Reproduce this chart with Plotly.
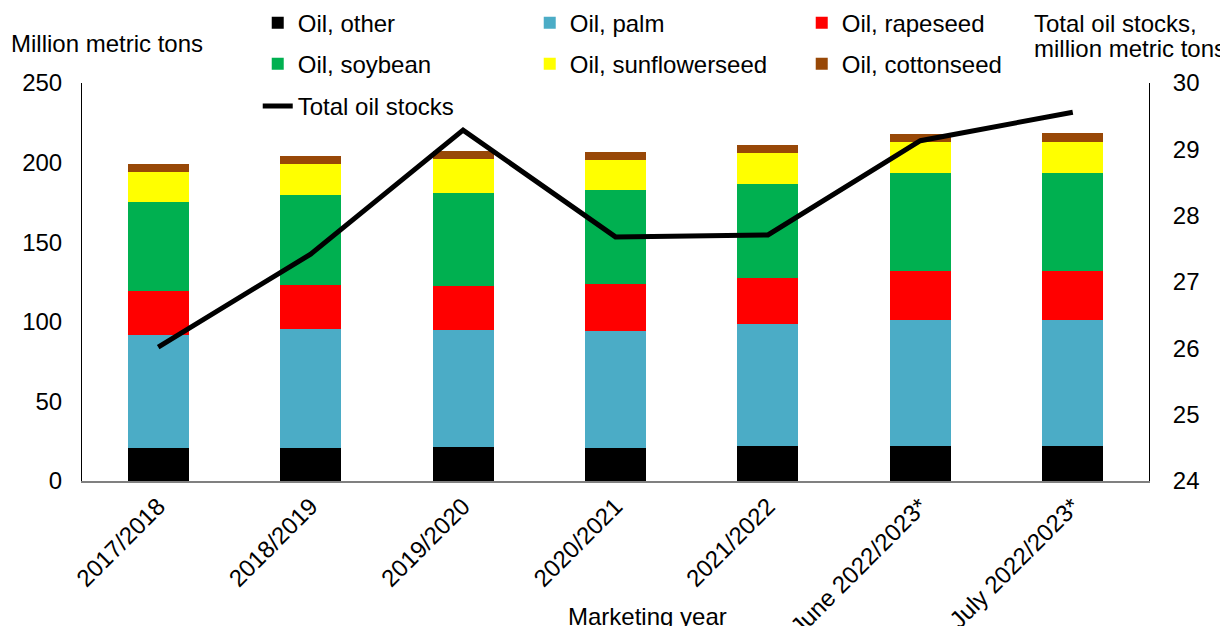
import plotly.graph_objects as go

# ---- data ----
years = ["2017/2018", "2018/2019", "2019/2020", "2020/2021", "2021/2022",
         "June 2022/2023*", "July 2022/2023*"]
oil_other = [20.9, 20.9, 21.4, 20.9, 22.2, 22.0, 22.0]
oil_palm = [70.8, 74.6, 73.2, 73.3, 76.6, 79.3, 79.3]
oil_rapeseed = [27.8, 27.8, 28.1, 29.3, 28.5, 30.8, 30.8]
oil_soybean = [55.8, 56.1, 58.4, 59.3, 59.5, 61.6, 61.6]
oil_sunflowerseed = [18.6, 19.9, 21.2, 19.0, 19.4, 19.2, 19.4]
oil_cottonseed = [5.0, 4.8, 5.0, 4.9, 5.1, 5.3, 5.5]
total_oil_stocks = [26.02, 27.42, 29.29, 27.68, 27.71, 29.13, 29.56]

left_ticks = [0, 50, 100, 150, 200, 250]
right_ticks = [24, 25, 26, 27, 28, 29, 30]

FONT = "Liberation Sans, Arial, sans-serif"
FS = 24

series = [
    ("Oil, other", oil_other, "#000000", "legend"),
    ("Oil, palm", oil_palm, "#4BACC6", "legend"),
    ("Oil, rapeseed", oil_rapeseed, "#FF0000", "legend"),
    ("Oil, soybean", oil_soybean, "#00B050", "legend2"),
    ("Oil, sunflowerseed", oil_sunflowerseed, "#FFFF00", "legend2"),
    ("Oil, cottonseed", oil_cottonseed, "#984807", "legend2"),
]

fig = go.Figure()
for name, vals, color, lg in series:
    fig.add_trace(go.Bar(
        x=years, y=vals, name=name, width=0.4,
        marker=dict(color=color, line=dict(width=0)),
        legend=lg, yaxis="y",
    ))

fig.add_trace(go.Scatter(
    x=years, y=total_oil_stocks, name="Total oil stocks", mode="lines",
    line=dict(color="#000000", width=5), yaxis="y2", legend="legend3",
))

leg_common = dict(orientation="h", xanchor="left", yanchor="top",
                  x=0.1647, entrywidth=227, entrywidthmode="pixels",
                  traceorder="normal", bgcolor="rgba(0,0,0,0)",
                  font=dict(family=FONT, size=FS, color="#000000"))

# The page body has an 8px margin, so the figure is 8px smaller than the
# window and its left/top margins are 8px less.
fig.update_layout(
    width=1220, height=618,
    margin=dict(l=74, r=79, t=75, b=145, autoexpand=False),
    paper_bgcolor="white", plot_bgcolor="white",
    barmode="stack",
    font=dict(family=FONT, size=FS, color="#000000"),
    xaxis=dict(
        type="category", range=[-0.5, 6.5], tickangle=-45, automargin=False,
        showline=True, linecolor="#808080", linewidth=1.5,
        ticks="", showgrid=False, tickfont=dict(size=FS),
    ),
    yaxis=dict(
        range=[0, 250], tickvals=left_ticks, showline=True, automargin=False,
        linecolor="#000000", linewidth=1, ticks="", showgrid=False,
        zeroline=False, tickfont=dict(size=FS), ticklabelstandoff=14,
    ),
    yaxis2=dict(
        range=[24, 30], tickvals=right_ticks, overlaying="y", side="right",
        showline=True, linecolor="#000000", linewidth=1, ticks="",
        showgrid=False, zeroline=False, tickfont=dict(size=FS),
        ticklabelstandoff=18, automargin=False,
    ),
    legend=dict(y=1.207, **leg_common),
    legend2=dict(y=1.104, **leg_common),
    legend3=dict(y=0.998, **leg_common),
    annotations=[
        dict(text="Million metric tons", xref="paper", yref="paper",
             x=(9 - 82) / 1067, y=1 + (83 - 43) / 398, xanchor="left",
             yanchor="middle", showarrow=False, font=dict(size=FS)),
        dict(text="Total oil stocks,", xref="paper", yref="paper",
             x=(1032 - 82) / 1067, y=1 + (83 - 24) / 398, xanchor="left",
             yanchor="middle", showarrow=False, font=dict(size=FS)),
        dict(text="million metric tons", xref="paper", yref="paper",
             x=(1032 - 82) / 1067, y=1 + (83 - 49) / 398, xanchor="left",
             yanchor="middle", showarrow=False, font=dict(size=FS)),
        dict(text="Marketing year", xref="paper", yref="paper",
             x=(647 - 82) / 1067, y=(481 - 616) / 398, xanchor="center",
             yanchor="middle", showarrow=False, font=dict(size=FS)),
    ],
)

fig.write_html("out.html")
